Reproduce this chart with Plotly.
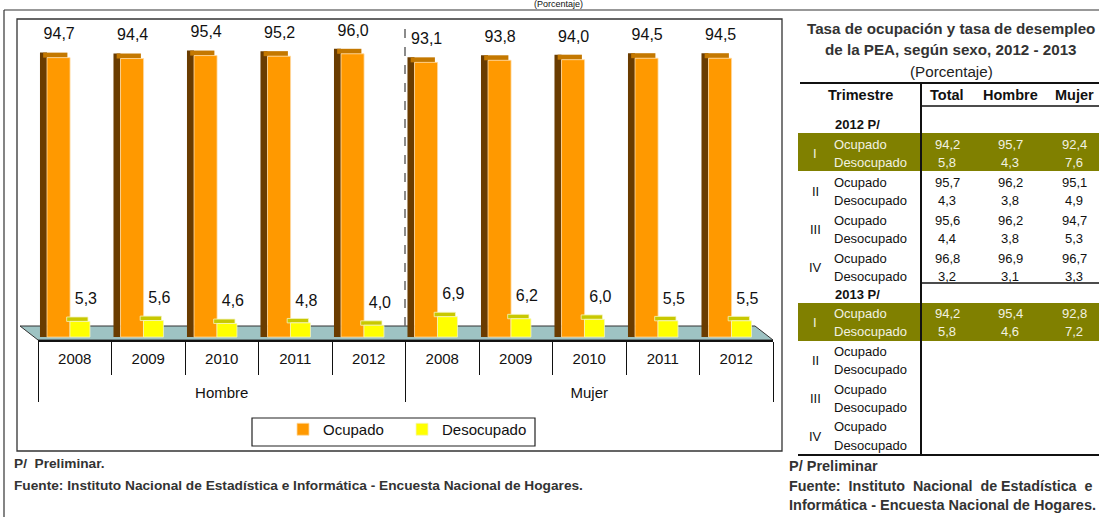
import plotly.graph_objects as go

# ---------------- data ----------------
groups = ["Hombre"] * 5 + ["Mujer"] * 5
years = ["2008", "2009", "2010", "2011", "2012"] * 2
ocupado = [94.7, 94.4, 95.4, 95.2, 96.0, 93.1, 93.8, 94.0, 94.5, 94.5]
desocupado = [5.3, 5.6, 4.6, 4.8, 4.0, 6.9, 6.2, 6.0, 5.5, 5.5]

chart_title_cut = "(Porcentaje)"
foot_left = ["P/  Preliminar.",
             "Fuente: Instituto Nacional de Estadística e Informática - Encuesta Nacional de Hogares."]

tbl_title = ["Tasa de ocupación y tasa de desempleo",
             "de la PEA, según sexo, 2012 - 2013"]
tbl_subtitle = "(Porcentaje)"
tbl_cols = ["Total", "Hombre", "Mujer"]
quarters = ["I", "II", "III", "IV"]
conditions = ["Ocupado", "Desocupado"]
periods = ["2012 P/", "2013 P/"]

ocu_2012_total = [94.2, 95.7, 95.6, 96.8]
ocu_2012_hombre = [95.7, 96.2, 96.2, 96.9]
ocu_2012_mujer = [92.4, 95.1, 94.7, 96.7]
des_2012_total = [5.8, 4.3, 4.4, 3.2]
des_2012_hombre = [4.3, 3.8, 3.8, 3.1]
des_2012_mujer = [7.6, 4.9, 5.3, 3.3]

ocu_2013_total = [94.2]
ocu_2013_hombre = [95.4]
ocu_2013_mujer = [92.8]
des_2013_total = [5.8]
des_2013_hombre = [4.6]
des_2013_mujer = [7.2]

foot_right = ["P/ Preliminar",
              "Fuente:&nbsp;&nbsp;Instituto&nbsp;&nbsp;Nacional&nbsp;&nbsp;de&nbsp;Estadística&nbsp;&nbsp;e",
              "Informática - Encuesta Nacional de Hogares."]

# ---------------- styling ----------------
FONT = "Liberation Sans, Arial, sans-serif"
W, H = 1099, 517
L, R, T, B = 38, 326, 12, 177
PW = W - L - R
PH = H - T - B
BOTTOM = H - B
PX_PER_UNIT = 298 / 101.0
YMIN = -1.0
YMAX = YMIN + PH / PX_PER_UNIT

ORANGE = "#FF9900"
ORANGE_TOP = "#C47800"
ORANGE_SIDE = "#6A3C00"
YELLOW = "#FFFF00"
YELLOW_TOP = "#C8C800"
OLIVE = "#808000"


def X(px):
    return (px - L) / PW


def Y(py):
    return (BOTTOM - py) / PH


def fmt(v):
    return f"{v:.1f}".replace(".", ",")


# outer category labels sit one line lower, as in the reference
xcat = [["<br>" + g for g in groups], years]
cap = 1.7

fig = go.Figure()

# side face of orange bars
fig.add_trace(go.Bar(x=xcat, y=[v + cap for v in ocupado], offset=-0.473, width=0.095,
                     marker=dict(color=ORANGE_SIDE, line=dict(width=0)),
                     showlegend=False, hoverinfo="skip"))
# top face of orange bars
fig.add_trace(go.Bar(x=xcat, y=[cap] * len(ocupado), base=ocupado, offset=-0.43, width=0.33,
                     marker=dict(color=ORANGE_TOP, line=dict(width=0)),
                     showlegend=False, hoverinfo="skip"))
# front face orange
fig.add_trace(go.Bar(x=xcat, y=ocupado, name="Ocupado", offset=-0.377, width=0.313,
                     marker=dict(color=ORANGE, line=dict(color="#FFD9A0", width=0.8)),
                     legend="legend"))
# top face of yellow bars
fig.add_trace(go.Bar(x=xcat, y=[1.5] * len(desocupado), base=desocupado, offset=-0.11, width=0.29,
                     marker=dict(color=YELLOW_TOP, line=dict(color="#F4F4C0", width=0.8)),
                     showlegend=False, hoverinfo="skip"))
# front face yellow
fig.add_trace(go.Bar(x=xcat, y=desocupado, name="Desocupado", offset=-0.065, width=0.272,
                     marker=dict(color=YELLOW, line=dict(color="#F4F4C0", width=0.8)),
                     legend="legend2"))

# value labels
fig.add_trace(go.Scatter(x=xcat, y=[v + 4.8 for v in ocupado], mode="text",
                         text=[fmt(v) for v in ocupado], textposition="top left",
                         textfont=dict(family=FONT, size=16, color="#111"),
                         showlegend=False, hoverinfo="skip", cliponaxis=False))
fig.add_trace(go.Scatter(x=xcat, y=[v + 4.5 for v in desocupado], mode="text",
                         text=[fmt(v) for v in desocupado], textposition="top right",
                         textfont=dict(family=FONT, size=16, color="#111"),
                         showlegend=False, hoverinfo="skip", cliponaxis=False))

shapes = []
annotations = []


def line(x0, y0, x1, y1, color="#222", width=1.0, dash="solid"):
    shapes.append(dict(type="line", xref="paper", yref="paper",
                       x0=X(x0), y0=Y(y0), x1=X(x1), y1=Y(y1),
                       line=dict(color=color, width=width, dash=dash)))


def rect(x0, y0, x1, y1, fill=None, color="#222", width=1.0, layer="above"):
    shapes.append(dict(type="rect", xref="paper", yref="paper",
                       x0=X(x0), y0=Y(y0), x1=X(x1), y1=Y(y1), layer=layer,
                       fillcolor=fill if fill else "rgba(0,0,0,0)",
                       line=dict(color=color, width=width)))


def text(px, py, s, size=15, bold=False, color="#111", xanchor="center"):
    annotations.append(dict(xref="paper", yref="paper", x=X(px), y=Y(py),
                            text=f"<b>{s}</b>" if bold else s, showarrow=False,
                            xanchor=xanchor, yanchor="middle",
                            font=dict(family=FONT, size=size, color=color)))


# frames
line(4, 10, 4, 520, color="#333", width=1.2)
line(4, 10, 1099, 10, color="#333", width=1.2)
rect(17, 19, 782, 451, color="#333", width=1.3)
rect(252, 418, 535, 446, color="#222", width=1.2)

# floor
shapes.append(dict(type="path", xref="paper", yref="paper", layer="below",
                   path=f"M {X(38)},{Y(340)} L {X(773)},{Y(340)} L {X(755)},{Y(326)} L {X(20)},{Y(326)} Z",
                   fillcolor="#9EC3C3", line=dict(color="#333", width=1)))
# dashed separator
line(405, 326, 405, 20, color="#666", width=1.5, dash="dash")

# chart subtitle at the very top
text(558, 4.5, chart_title_cut, size=9)

# left footnotes
text(12, 464, foot_left[0], size=13.7, bold=True, xanchor="left", color="#333")
text(12, 485, foot_left[1], size=13.7, bold=True, xanchor="left", color="#333")

# ---------------- table ----------------
text(951, 28, tbl_title[0], size=15.2, bold=True, color="#333")
text(951, 49, tbl_title[1], size=15.2, bold=True, color="#333")
text(951, 71, tbl_subtitle, size=15.2, color="#222")

line(800, 83, 1099, 83, color="#111", width=2)
text(860, 95, "Trimestre", size=14.5, bold=True)
col_x = [947, 1010, 1074]
for cx, c in zip(col_x, tbl_cols):
    text(cx, 95, c, size=14.5, bold=True)

# bands
rect(798, 133, 1099, 171, fill=OLIVE, color=OLIVE, width=0, layer="below")
rect(798, 303, 1099, 341, fill=OLIVE, color=OLIVE, width=0, layer="below")

line(921, 106, 1099, 106, color="#111", width=1.5)
line(921, 283, 1099, 283, color="#111", width=1.5)
line(921, 83, 921, 455, color="#111", width=2)
line(798, 455, 1099, 455, color="#111", width=2)

blocks = [
    (periods[0], 125, 144,
     [ocu_2012_total, ocu_2012_hombre, ocu_2012_mujer],
     [des_2012_total, des_2012_hombre, des_2012_mujer]),
    (periods[1], 294, 313,
     [ocu_2013_total, ocu_2013_hombre, ocu_2013_mujer],
     [des_2013_total, des_2013_hombre, des_2013_mujer]),
]
for label, hy, y0, ocu_cols, des_cols in blocks:
    text(858, hy, label, size=13, bold=True)
    for qi, q in enumerate(quarters):
        yo = y0 + qi * 38
        yd = yo + 18.5
        hi = qi == 0
        col = "#F2F2E0" if hi else "#111"
        text(815, (yo + yd) / 2, q, size=13, color=col)
        text(832, yo, conditions[0], size=13, color=col, xanchor="left")
        text(832, yd, conditions[1], size=13, color=col, xanchor="left")
        for cx, oc, dc in zip(col_x, ocu_cols, des_cols):
            if qi < len(oc):
                text(cx, yo, fmt(oc[qi]), size=13, color=col)
                text(cx, yd, fmt(dc[qi]), size=13, color=col)

text(787, 466, foot_right[0], size=14.5, bold=True, xanchor="left", color="#333")
text(787, 486, foot_right[1], size=14.3, bold=True, xanchor="left", color="#333")
text(787, 505, foot_right[2], size=14.5, bold=True, xanchor="left", color="#333")

legend_style = dict(orientation="h", xanchor="left", yanchor="top",
                    bgcolor="rgba(0,0,0,0)", borderwidth=0,
                    font=dict(family=FONT, size=15, color="#111"), itemwidth=30)

fig.update_layout(
    width=W, height=H,
    margin=dict(l=L, r=R, t=T, b=B, autoexpand=False),
    paper_bgcolor="white", plot_bgcolor="rgba(0,0,0,0)",
    barmode="overlay",
    font=dict(family=FONT, size=15, color="#111"),
    xaxis=dict(type="multicategory", showline=True, linecolor="#111", linewidth=1.5,
               ticks="outside", ticklen=33, tickcolor="#111", tickwidth=1,
               tickson="boundaries", showdividers=True, dividercolor="#111", dividerwidth=1,
               tickfont=dict(family=FONT, size=15, color="#111"), showgrid=False,
               ticklabelstandoff=4, range=[-0.5, 9.5]),
    yaxis=dict(visible=False, range=[YMIN, YMAX]),
    legend=dict(x=X(283), y=Y(413), **legend_style),
    legend2=dict(x=X(402), y=Y(413), **legend_style),
    shapes=shapes, annotations=annotations,
)

fig.write_html("out.html", post_script="document.body.style.margin='0';",
               config={"displayModeBar": False})
